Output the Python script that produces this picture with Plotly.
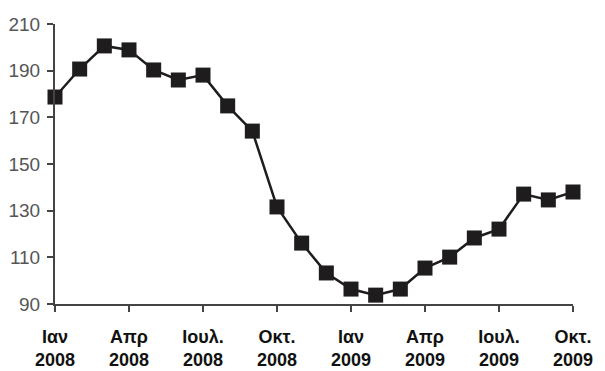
import plotly.graph_objects as go

months = ["2008-01", "2008-02", "2008-03", "2008-04", "2008-05", "2008-06",
          "2008-07", "2008-08", "2008-09", "2008-10", "2008-11", "2008-12",
          "2009-01", "2009-02", "2009-03", "2009-04", "2009-05", "2009-06",
          "2009-07", "2009-08", "2009-09", "2009-10"]
values = [178.7, 190.7, 200.6, 198.9, 190.3, 186.0, 188.1, 174.9, 164.1, 131.6,
          116.1, 103.3, 96.4, 93.8, 96.4, 105.4, 110.1, 118.3, 122.1, 137.1,
          134.6, 138.0]
tick_months = ["2008-01", "2008-04", "2008-07", "2008-10",
               "2009-01", "2009-04", "2009-07", "2009-10"]
tick_labels = ["Ιαν<br>2008", "Απρ<br>2008", "Ιουλ.<br>2008", "Οκτ.<br>2008",
               "Ιαν<br>2009", "Απρ<br>2009", "Ιουλ.<br>2009", "Οκτ.<br>2009"]
y_ticks = [90, 110, 130, 150, 170, 190, 210]

fig = go.Figure()
fig.add_trace(go.Scatter(
    x=months, y=values, mode="lines+markers",
    line=dict(color="#1e1c1c", width=2.5),
    marker=dict(symbol="square", size=15, color="#1e1c1c"),
    cliponaxis=False, showlegend=False,
))

fig.update_layout(
    width=605, height=371,
    margin=dict(l=55, r=32, t=24, b=67),
    paper_bgcolor="white", plot_bgcolor="white",
    xaxis=dict(
        type="category", range=[0, len(months) - 1],
        tickmode="array", tickvals=tick_months, ticktext=tick_labels,
        showline=True, linecolor="#444", linewidth=2,
        ticks="outside", ticklen=6, tickcolor="#444", tickwidth=2,
        showgrid=False, zeroline=False, automargin=False,
        tickfont=dict(family="Liberation Sans, Arial, sans-serif", size=18,
                      color="#111", weight="bold"),
        ticklabelstandoff=9,
    ),
    yaxis=dict(
        range=[90, 210], tickmode="array", tickvals=y_ticks,
        showline=True, linecolor="#444", linewidth=2,
        ticks="outside", ticklen=6, tickcolor="#444", tickwidth=2,
        showgrid=False, zeroline=False, automargin=False,
        tickfont=dict(family="Liberation Sans, Arial, sans-serif",
                      size=19, color="#555"),
        ticklabelstandoff=3,
    ),
)

fig.write_html("out.html")
